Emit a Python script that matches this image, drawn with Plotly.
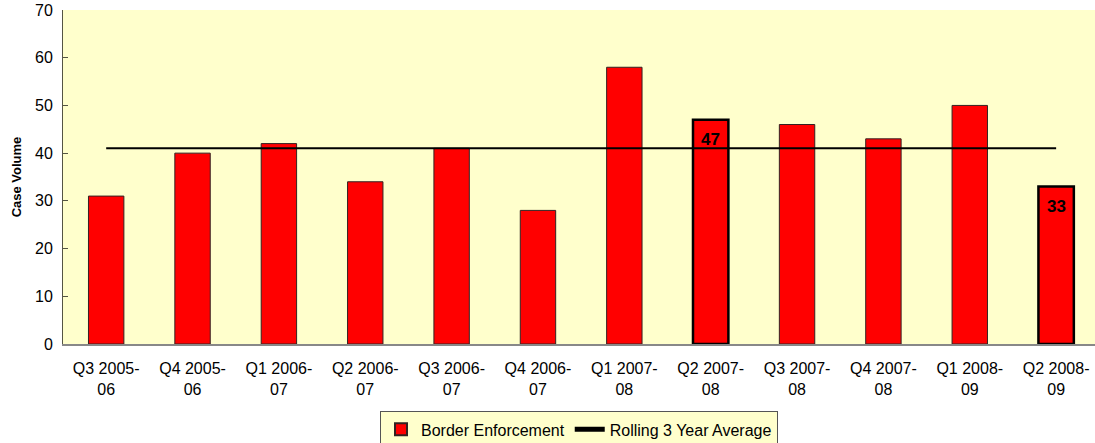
import plotly.graph_objects as go

categories = ["Q3 2005-06", "Q4 2005-06", "Q1 2006-07", "Q2 2006-07", "Q3 2006-07", "Q4 2006-07",
              "Q1 2007-08", "Q2 2007-08", "Q3 2007-08", "Q4 2007-08", "Q1 2008-09", "Q2 2008-09"]
border_enforcement = [31, 40, 42, 34, 41, 28, 58, 47, 46, 43, 50, 33]
rolling_avg = [41] * 12
labels = ["", "", "", "", "", "", "", "47", "", "", "", "33"]
highlight = [False] * 7 + [True] + [False] * 3 + [True]

tick_text = [c.replace("-", "-<br>") for c in categories]
FONT = "Liberation Sans, Arial, sans-serif"

fig = go.Figure()
fig.add_trace(go.Bar(
    x=list(range(len(categories))), y=border_enforcement, name="Border Enforcement",
    marker=dict(color="#FF0000",
                line=dict(color=["#000000" if h else "#332222" for h in highlight],
                          width=[2.5 if h else 1 for h in highlight])),
))
fig.add_trace(go.Scatter(
    x=list(range(len(categories))), y=rolling_avg, name="Rolling 3 Year Average", mode="lines",
    line=dict(color="black", width=2),
))
for i, (lab, v) in enumerate(zip(labels, border_enforcement)):
    if lab:
        fig.add_annotation(x=i, y=v, text=f"<b>{lab}</b>", showarrow=False,
                           yanchor="middle", yshift=-20,
                           font=dict(family=FONT, size=17, color="black"))

fig.update_layout(
    width=1095, height=443,
    margin=dict(l=63, r=0, t=10, b=99, autoexpand=False),
    plot_bgcolor="#FFFFCC", paper_bgcolor="white",
    bargap=0.59, showlegend=True,
    font=dict(family=FONT, size=16, color="black"),
    legend=dict(orientation="h", x=0.5, xanchor="center", y=-0.202, yanchor="top",
                bgcolor="#FFFFCC", bordercolor="#555555", borderwidth=1,
                font=dict(size=16), traceorder="normal", itemsizing="constant"),
)
fig.update_xaxes(tickmode="array", tickvals=list(range(len(categories))), ticktext=tick_text,
                 range=[-0.5, 11.45], automargin=False, ticklabelstandoff=9,
                 showline=True, linecolor="#888888", linewidth=2, ticks="",
                 showgrid=False, zeroline=False)
fig.update_yaxes(range=[0, 70], dtick=10, showline=True, linecolor="#555544", linewidth=1,
                 ticks="inside", ticklen=5, tickcolor="#555544", showgrid=False,
                 zeroline=False, automargin=False, ticklabelstandoff=6,
                 title=dict(text="<b>Case Volume</b>", font=dict(size=13), standoff=10))
fig.write_html("out.html", config={"displayModeBar": False},
               post_script="document.body.style.margin='0';")
